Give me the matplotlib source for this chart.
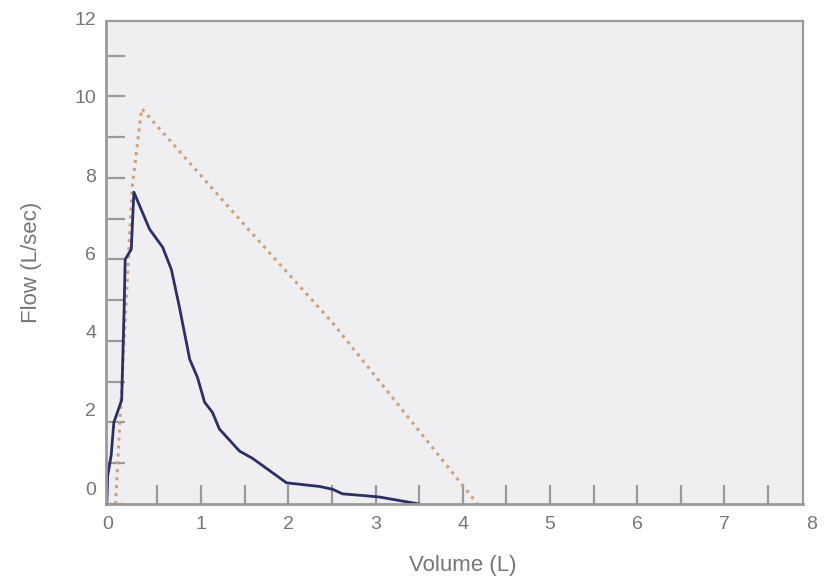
import matplotlib
matplotlib.use("Agg")
import matplotlib.pyplot as plt
from matplotlib.ticker import MultipleLocator, NullFormatter, FixedLocator

plt.rcParams['font.family'] = ['Liberation Sans Narrow', 'Liberation Sans', 'DejaVu Sans']

# measured curve (blue) - volume (L) vs flow (L/sec)
vol_measured = [-0.08, -0.07, -0.03, 0.0, 0.09, 0.12, 0.13, 0.2, 0.23, 0.41, 0.56, 0.66,
                0.75, 0.87, 0.96, 1.04, 1.13, 1.21, 1.44, 1.59, 1.98, 2.36, 2.51, 2.62,
                2.9, 3.05, 3.5]
flow_measured = [0.0, 0.7, 1.2, 2.0, 2.55, 4.95, 6.0, 6.25, 7.65, 6.74, 6.3, 5.75,
                 4.85, 3.55, 3.1, 2.5, 2.25, 1.84, 1.3, 1.12, 0.52, 0.43, 0.36, 0.25,
                 0.2, 0.17, 0.0]

# predicted / normal curve (orange dotted)
vol_predicted = [0.02, 0.21, 0.32, 1.55, 2.51, 4.17]
flow_predicted = [0.0, 7.77, 9.7, 6.72, 4.44, 0.0]

x_labels = [0, 1, 2, 3, 4, 5, 6, 7, 8]
y_labels = [0, 2, 4, 6, 8, 10, 12]

text_col = '#767676'
spine_col = '#9a9a9a'

fig = plt.figure(figsize=(8.24, 5.81), dpi=100)
ax = fig.add_axes([0.1286, 0.1325, 0.8459, 0.8314])
ax.set_facecolor('#efeff1')

ax.plot(vol_predicted, flow_predicted, color='#cfa07a', lw=2.2, linestyle=(0, (1, 1.6)))
ax.plot(vol_measured, flow_measured, color='#2c2f66', lw=2)

ax.set_xlim(-0.09, 7.9)
ax.set_ylim(0, 11.85)

# ticks inside, every 0.5 on x and every 1 on y
ax.xaxis.set_major_locator(FixedLocator([0.5 * i for i in range(1, 16)]))
ax.xaxis.set_major_formatter(NullFormatter())
ax.yaxis.set_major_locator(MultipleLocator(1))
ax.yaxis.set_major_formatter(NullFormatter())
ax.tick_params(direction='in', length=14, width=1.6, color=spine_col)

# tick labels sit a little off the ticks in the original figure
for x in x_labels:
    ax.text(x - 0.07 * (x == 0), -0.3, str(x), ha='center', va='top', fontsize=14,
            color=text_col, clip_on=False)
for y in y_labels:
    ax.text(-0.2, 0.34 + 0.96 * y, str(y), ha='right', va='center', fontsize=14,
            color=text_col, clip_on=False)

for s in ax.spines.values():
    s.set_color(spine_col)
    s.set_linewidth(1.6)
ax.spines['left'].set_linewidth(2)
ax.spines['bottom'].set_linewidth(2)

fig.text(0.561, 0.026, 'Volume (L)', ha='center', va='center', fontsize=16, color=text_col)
fig.text(0.038, 0.548, 'Flow (L/sec)', ha='center', va='center', rotation=90, fontsize=16, color=text_col)

fig.savefig('out.png', dpi=100, facecolor='white')
